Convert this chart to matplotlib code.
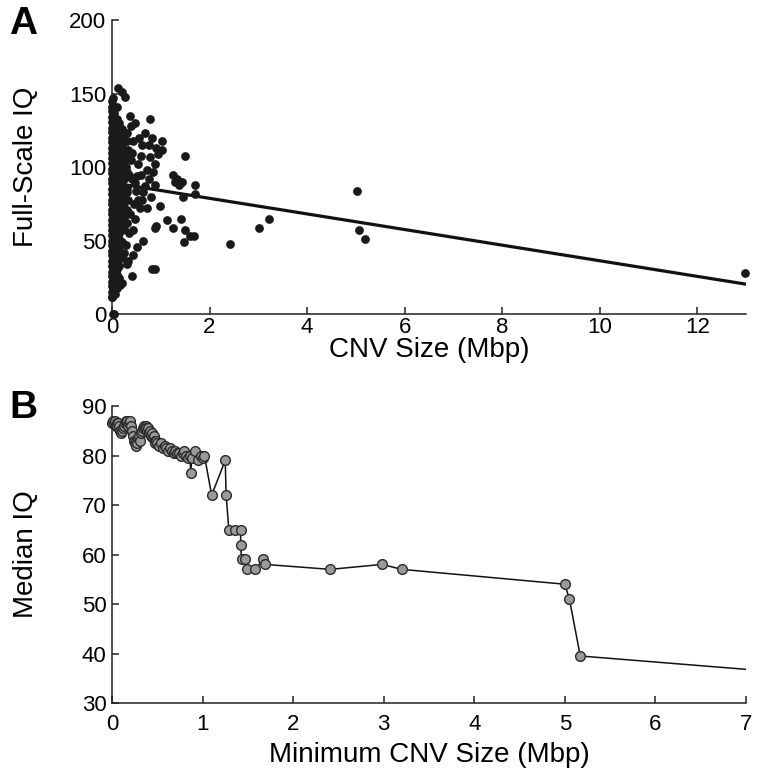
import numpy as np
import matplotlib.pyplot as plt

plt.rcParams['font.family'] = ['Liberation Sans', 'DejaVu Sans']

# ---- Panel A: CNV size vs Full-Scale IQ ----
# dense column of small CNVs, one IQ list per approximate size
COL_SIZE = [0.00, 0.05, 0.10, 0.15, 0.20, 0.25, 0.30]
COL_IQ = [
    [12, 15, 19, 22, 26, 29, 33, 36, 40, 43, 47, 50, 54, 57, 61, 64, 68, 71,
     75, 78, 82, 85, 89, 92, 96, 99, 103, 106, 110, 113, 117, 120, 124, 127,
     131, 134, 138, 141, 145],
    [14, 18, 21, 25, 28, 32, 35, 39, 42, 46, 49, 53, 56, 60, 63, 67, 70, 74,
     77, 81, 84, 88, 91, 95, 98, 102, 105, 109, 112, 116, 119, 123, 126, 130,
     133, 137, 140],
    [18, 23, 27, 31, 35, 38, 42, 45, 49, 52, 56, 59, 63, 66, 70, 73, 77, 80,
     84, 87, 91, 94, 98, 101, 105, 108, 112, 115, 119, 122, 126, 129, 133],
    [25, 33, 40, 46, 51, 55, 58, 62, 65, 69, 72, 76, 79, 83, 86, 90, 93, 97,
     100, 104, 107, 111, 114, 118, 121, 125, 130],
    [38, 49, 57, 62, 67, 71, 75, 79, 83, 87, 91, 95, 99, 103, 107, 111, 115,
     120, 126],
    [58, 66, 73, 80, 86, 92, 98, 104, 110, 117],
    [71, 83, 97, 106, 118],
]

# individually visible CNVs
SCAT_SIZE = [0.13, 0.20, 0.27, 0.02, 0.10, 0.36, 0.47, 0.78, 0.68, 1.02,
             1.02, 0.44, 0.61, 0.78, 0.95, 1.50, 0.54, 0.71, 0.88, 0.85,
             1.26, 1.29, 1.43, 1.70, 1.70, 1.46, 0.47, 0.68, 0.88, 0.64,
             0.99, 0.54, 0.71, 0.57, 1.12, 1.26, 1.42, 1.50, 1.60, 1.69,
             1.48, 0.88, 0.44, 0.64, 0.51, 0.44, 0.33, 0.82, 0.88, 0.40,
             0.16, 0.06, 0.03, 2.42, 3.02, 3.21, 5.02, 5.06, 5.19, 12.97,
             1.33, 1.38, 0.90, 0.30, 0.20, 0.00, 0.05, 0.32, 0.38, 0.35,
             0.30, 0.33, 0.37, 0.30, 0.42, 0.50, 0.28, 0.40, 0.31, 0.55,
             0.60, 0.45, 0.35, 0.28, 0.25, 0.60, 0.75, 0.82, 0.90, 0.38,
             0.52, 0.62, 0.48, 0.75, 0.80]
SCAT_IQ = [154, 151, 148, 147, 141, 135, 130, 133, 123, 118,
           112, 118, 115, 107, 109, 108, 102, 98, 102, 97,
           95, 90, 90, 88, 82, 80, 89, 87, 88, 83,
           74, 78, 72, 72, 64, 59, 65, 57, 53, 53,
           49, 59, 57, 50, 46, 40, 36, 31, 31, 26,
           20, 14, 0.5, 48, 59, 65, 84, 57, 51, 28,
           92, 88, 60, 34, 21, 12, 0, 112, 105, 95,
           86, 78, 68, 62, 92, 84, 100, 110, 123, 120,
           95, 75, 55, 47, 42, 108, 115, 120, 113, 128,
           94, 78, 65, 92, 80]

FIT_SIZE = [0, 13]
FIT_IQ = [89.5, 20.5]

# ---- Panel B: minimum CNV size vs median IQ ----
MIN_SIZE = [0.00, 0.01, 0.02, 0.03, 0.04, 0.05, 0.06, 0.07, 0.08, 0.09,
            0.10, 0.11, 0.12, 0.13, 0.14, 0.15, 0.16, 0.17, 0.18, 0.19,
            0.20, 0.21, 0.22, 0.23, 0.24, 0.25, 0.26, 0.27, 0.28, 0.29,
            0.30, 0.31, 0.32, 0.33, 0.34, 0.35, 0.36, 0.37, 0.38, 0.39,
            0.40, 0.41, 0.42, 0.43, 0.44, 0.45, 0.46, 0.47, 0.48, 0.49,
            0.50, 0.52, 0.54, 0.56, 0.58, 0.60, 0.62, 0.64, 0.66, 0.68,
            0.70, 0.72, 0.74, 0.76, 0.78, 0.80, 0.82, 0.84, 0.86, 0.87,
            0.88, 0.92, 0.95, 0.98, 1.00, 1.02, 1.10, 1.25, 1.26, 1.29,
            1.36, 1.42, 1.42, 1.43, 1.47, 1.49, 1.58, 1.67, 1.69, 2.41,
            2.98, 3.20, 5.00, 5.05, 5.17, 12.97]
MEDIAN_IQ = [86.5, 87.0, 86.5, 87.0, 86.0, 86.5, 86.0, 86.5, 86.0, 85.0,
             84.5, 85.0, 85.5, 86.0, 86.5, 87.0, 86.5, 87.0, 86.0, 86.5,
             87.0, 86.0, 85.0, 84.0, 83.0, 82.5, 83.0, 82.0, 82.5, 83.5,
             84.0, 83.0, 84.5, 85.0, 85.5, 86.0, 85.5, 86.0, 85.5, 85.0,
             85.5, 84.5, 85.0, 84.0, 84.5, 83.5, 84.0, 83.0, 82.5, 83.0,
             82.5, 82.0, 82.5, 81.5, 82.0, 81.5, 81.0, 81.5, 81.0, 80.5,
             81.0, 80.5, 80.5, 80.0, 80.5, 81.0, 80.0, 79.5, 80.0, 76.5,
             79.5, 81.0, 79.0, 80.0, 79.5, 80.0, 72.0, 79.0, 72.0, 65.0,
             65.0, 65.0, 62.0, 59.0, 59.0, 57.0, 57.0, 59.0, 58.0, 57.0,
             58.0, 57.0, 54.0, 51.0, 39.5, 28.0]


def style_axis(ax, xpad):
    ax.spines[['top', 'right']].set_visible(False)
    for s in ['left', 'bottom']:
        ax.spines[s].set_linewidth(1.1)
        ax.spines[s].set_color('#222222')
    ax.tick_params(direction='in', length=5, width=1.1, labelsize=16,
                   color='#222222')
    ax.tick_params(axis='y', pad=4)
    ax.tick_params(axis='x', pad=xpad)


fig = plt.figure(figsize=(7.62, 7.78), dpi=100)

# panel A
axA = fig.add_axes([0.147, 0.596, 0.832, 0.378])
a_x = np.concatenate([[x] * len(ys) for x, ys in zip(COL_SIZE, COL_IQ)] + [SCAT_SIZE])
a_y = np.concatenate([np.array(ys, float) for ys in COL_IQ] + [SCAT_IQ])
axA.plot(FIT_SIZE, FIT_IQ, color='#111111', lw=2.3, zorder=2)
axA.plot(a_x, a_y, 'o', color='#1a1a1a', ms=6.3, mew=0, clip_on=False, zorder=3)
axA.set_xlim(0, 13)
axA.set_ylim(0, 200)
axA.set_xticks([0, 2, 4, 6, 8, 10, 12])
axA.set_yticks([0, 50, 100, 150, 200])
axA.set_xlabel('CNV Size (Mbp)', fontsize=20)
axA.set_ylabel('Full-Scale IQ', fontsize=20)
axA.xaxis.set_label_coords(0.5, -0.076)
axA.yaxis.set_label_coords(-0.115, 0.5)
style_axis(axA, 2)

# panel B
axB = fig.add_axes([0.147, 0.0964, 0.832, 0.3817])
b_x = np.array(MIN_SIZE)
b_y = np.array(MEDIAN_IQ)
axB.plot(b_x, b_y, color='#111111', lw=1.1, zorder=2)
shown = b_x <= 7
axB.plot(b_x[shown], b_y[shown], 'o', ms=7, mfc='#9a9a9a', mec='#2a2a2a',
         mew=1.0, clip_on=False, zorder=3)
axB.set_xlim(0, 7)
axB.set_ylim(30, 90)
axB.set_xticks(range(0, 8))
axB.set_yticks(range(30, 91, 10))
axB.set_xlabel('Minimum CNV Size (Mbp)', fontsize=20)
axB.set_ylabel('Median IQ', fontsize=20)
axB.xaxis.set_label_coords(0.5, -0.13)
axB.yaxis.set_label_coords(-0.115, 0.5)
style_axis(axB, 8)

fig.text(0.012, 0.992, 'A', fontsize=28, fontweight='bold', va='top', ha='left')
fig.text(0.012, 0.499, 'B', fontsize=28, fontweight='bold', va='top', ha='left')

fig.savefig('out.png', dpi=100, facecolor='white')
